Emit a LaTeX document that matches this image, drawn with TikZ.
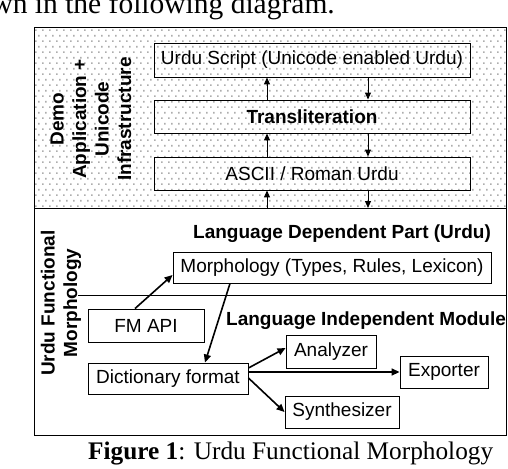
\documentclass[tikz,border=0pt]{standalone}
\usepackage{fontspec}
\setmainfont{Liberation Serif}
\newfontfamily\arial{Liberation Sans}
\usetikzlibrary{arrows.meta,patterns.meta,calc}
\tikzdeclarepattern{
  name=mydots,
  type=uncolored,
  bounding box={(0pt,0pt) and (7pt,11.4pt)},
  tile size={(7pt,11.4pt)},
  code={\fill (0pt,0pt) rectangle (1.8pt,1.8pt);
        \fill (3.5pt,5.7pt) rectangle (5.3pt,7.5pt);}
}
\begin{document}
\begin{tikzpicture}[x=1pt,y=-1pt,
  box/.style={draw,line width=0.9pt,inner sep=0pt,font=\arial\fontsize{19}{22}\selectfont},
  head/.style={inner sep=0pt,font=\arial\bfseries\fontsize{19}{22}\selectfont},
  side/.style={inner sep=0pt,rotate=90,align=center,font=\arial\bfseries\fontsize{19}{22.5}\selectfont},
  serif/.style={inner sep=0pt,font=\fontsize{25.3}{28}\selectfont},
  arr/.style={-{Triangle[length=7pt,width=6pt]},line width=1pt},
  arrb/.style={-{Triangle[length=8pt,width=7pt]},line width=1.6pt}]
\useasboundingbox (0,0) rectangle (508,468);
\clip (0,0) rectangle (508,468);
\fill[white] (0,0) rectangle (508,468);
% partial text at the top (cut off in the reference as well)
\node[inner sep=0pt,font=\fontsize{29.5}{32}\selectfont,anchor=base east] (toptext) at (335,14) {wn in the following diagram.};
% regions
\fill[pattern=mydots,pattern color=black!32] (34,27) rectangle (506,208);
\draw[line width=0.9pt] (34,27) rectangle (506,435);
\draw[line width=0.9pt] (34,208) -- (506,208);
\draw[line width=0.9pt] (78,295) -- (506,295);
% upper boxes
\node[box,minimum width=316pt,minimum height=34pt] (urdu) at (312,60) {Urdu Script (Unicode enabled Urdu)};
\node[box,minimum width=316pt,minimum height=33pt] (translit) at (312,116.5) {\bfseries Transliteration};
\node[box,minimum width=316pt,minimum height=33pt] (ascii) at (312,173.5) {ASCII / Roman Urdu};
\node[side] (demo) at (91,119) {Demo\\Application +\\Unicode\\Infrastructure};
\coordinate (ux) at (267,0);
\coordinate (dx) at (368,0);
\coordinate (bnd) at (0,208);
\draw[arr] (translit.north -| ux) -- (urdu.south -| ux);
\draw[arr] (urdu.south -| dx) -- (translit.north -| dx);
\draw[arr] (ascii.north -| ux) -- (translit.south -| ux);
\draw[arr] (translit.south -| dx) -- (ascii.north -| dx);
\draw[arr] (bnd -| ux) -- (ascii.south -| ux);
\draw[arr] (ascii.south -| dx) -- (bnd -| dx);
% lower part
\node[side] (ufm) at (61,303) {Urdu Functional\\Morphology};
\node[head,anchor=base west] (ldp) at (193,238) {Language Dependent Part (Urdu)};
\node[head,anchor=base west] (lim) at (226,325) {Language Independent Module};
\node[box,fill=white,minimum width=318pt,minimum height=31pt] (morph) at (332,267.5) {Morphology (Types, Rules, Lexicon)};
\node[box,fill=white,minimum width=116pt,minimum height=33pt] (fmapi) at (146,325.5) {FM API};
\node[box,fill=white,minimum width=160pt,minimum height=31pt] (dict) at (168,378.5) {Dictionary format};
\node[box,fill=white,minimum width=90pt,minimum height=33pt] (analyzer) at (331,351.5) {Analyzer};
\node[box,fill=white,minimum width=88pt,minimum height=32pt] (exporter) at (444,372) {Exporter};
\node[box,fill=white,minimum width=114pt,minimum height=32pt] (synth) at (342,412) {Synthesizer};
\draw[arrb] ([xshift=-11pt]fmapi.north) -- ([yshift=-7.5pt]morph.west);
\draw[arrb] ([xshift=-102pt]morph.south) -- ([xshift=37pt]dict.north);
\draw[arrb] ([yshift=10.5pt]dict.east) -- ([yshift=3.5pt]analyzer.west);
\draw[arrb] (dict.east |- exporter.west) -- (exporter.west);
\draw[arrb] ([yshift=0.5pt]dict.east) -- (synth.west);
% caption
\node[serif,anchor=base west] (caption) at (88,459) {\textbf{Figure 1}: Urdu Functional Morphology};
\end{tikzpicture}
\end{document}
